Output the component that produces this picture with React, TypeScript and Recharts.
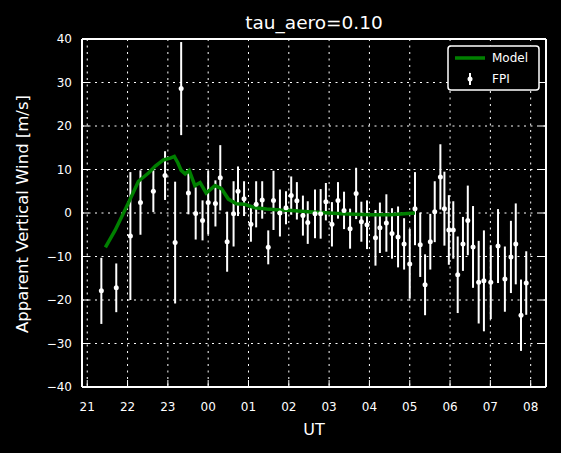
import React from 'react';
import {
  ComposedChart,
  Scatter,
  Line,
  XAxis,
  YAxis,
  CartesianGrid,
  ErrorBar,
  Legend,
} from 'recharts';

// x values are hours after 21 UT
const hourTicks = [0, 1, 2, 3, 4, 5, 6, 7, 8, 9, 10, 11];
const hourLabels = ['21', '22', '23', '00', '01', '02', '03', '04', '05', '06', '07', '08'];
const windTicks = [-40, -30, -20, -10, 0, 10, 20, 30, 40];

const fpiTime = [
  0.35, 0.72, 1.07, 1.32, 1.64, 1.93, 2.18, 2.33, 2.51, 2.69, 2.86, 3.0, 3.18, 3.3, 3.47,
  3.63, 3.74, 3.89, 4.06, 4.19, 4.34, 4.49, 4.62, 4.78, 4.93, 5.06, 5.2, 5.35, 5.47, 5.65,
  5.79, 5.92, 6.07, 6.22, 6.37, 6.52, 6.67, 6.8, 6.94, 7.15, 7.26, 7.42, 7.56, 7.71, 7.86,
  8.0, 8.13, 8.26, 8.38, 8.51, 8.62, 8.76, 8.86, 8.97, 9.08, 9.19, 9.32, 9.44, 9.57, 9.71,
  9.84, 10.01, 10.19, 10.36, 10.51, 10.63, 10.76, 10.89,
];
const fpiWind = [
  -17.9, -17.2, -5.3, 2.4, 5.0, 8.6, -6.8, 28.6, 4.6, -0.1, -1.7, 2.4, 2.2, 8.1, -6.6,
  -0.2, 5.0, 3.3, -2.6, 2.0, 3.0, -7.9, 2.9, 0.0, 1.2, 4.0, 2.8, -0.6, -2.2, -0.2,
  -0.2, 2.6, -2.6, 2.9, 0.6, -3.6, 4.5, -2.0, -2.7, -5.7, -3.4, -2.3, -4.7, -5.5, -7.1,
  -11.7, 1.0, -7.3, -16.5, -6.6, 0.3, 8.3, 1.0, -3.9, -3.9, -14.2, -7.1, -1.7, -7.8, -15.9,
  -15.6, -15.9, -7.6, -15.2, -10.1, -7.1, -23.5, -16.1,
];
const fpiErr = [
  7.6, 5.6, 14.7, 7.4, 4.8, 5.6, 14.0, 10.7, 4.9, 6.0, 4.6, 7.3, 5.3, 7.5, 6.9,
  7.5, 5.7, 4.0, 4.0, 5.3, 4.3, 3.9, 6.8, 5.4, 3.8, 4.4, 4.3, 4.6, 4.9, 5.6,
  5.7, 4.3, 5.1, 4.2, 4.3, 4.6, 5.9, 4.6, 5.6, 6.4, 5.8, 6.6, 5.8, 7.0, 5.9,
  8.0, 8.4, 7.4, 7.0, 6.4, 7.0, 7.5, 8.5, 8.0, 6.6, 8.8, 6.2, 8.0, 9.4, 9.5,
  11.6, 8.5, 8.5, 7.5, 8.3, 9.3, 8.2, 7.3,
];

const modelTime = [
  0.45, 0.69, 1.02, 1.27, 1.52, 1.69, 1.89, 2.06, 2.16, 2.25, 2.33, 2.43, 2.53, 2.67, 2.8,
  2.95, 3.17, 3.33, 3.5, 3.7, 3.9, 4.16, 4.45, 4.78, 5.07, 5.48, 5.9, 6.31, 7.01, 7.51, 8.13,
];
const modelWind = [
  -7.9, -4.0, 2.3, 7.3, 9.2, 10.8, 12.2, 12.6, 13.0, 11.5, 9.8, 9.0, 9.8, 6.3, 7.0,
  4.6, 6.3, 5.6, 3.2, 2.1, 2.0, 1.2, 0.9, 0.7, 0.6, 0.3, 0.05, -0.2, -0.4, -0.4, 0.0,
];

const fpiData = fpiTime.map((x, i) => ({ x, y: fpiWind[i], err: fpiErr[i] }));
const modelData = modelTime.map((x, i) => ({ x, y: modelWind[i] }));

const FONT = '"DejaVu Sans", sans-serif';
const xDomain: [number, number] = [-0.13, 11.38];

const fmtWind = (v: number) => (v < 0 ? '\u2212' + Math.abs(v) : String(v));

const LegendBox = () => (
  <svg width={93} height={46} style={{ display: 'block' }}>
    <rect x={1} y={1} width={91} height={44} rx={3} fill="#000" stroke="#fff" strokeWidth={1.5} />
    <line x1={8} y1={13} x2={38} y2={13} stroke="#008000" strokeWidth={3.5} />
    <text x={45} y={17} fill="#fff" fontSize={12} fontFamily={FONT}>Model</text>
    <line x1={23} y1={28} x2={23} y2={40} stroke="#fff" strokeWidth={2} />
    <circle cx={23} cy={34} r={2.5} fill="#fff" />
    <text x={45} y={38} fill="#fff" fontSize={12} fontFamily={FONT}>FPI</text>
  </svg>
);

const Dot = (props: any) => <circle cx={props.cx} cy={props.cy} r={2.5} fill="#fff" />;

export default function App() {
  return (
    <div style={{ position: 'absolute', left: 0, top: 0, width: 561, height: 453, background: '#000', fontFamily: FONT }}>
      <div style={{ position: 'absolute', left: 314, top: 22, transform: 'translate(-50%, -50%)', color: '#fff', fontSize: 18.5, whiteSpace: 'nowrap' }}>
        tau_aero=0.10
      </div>
      <div style={{ position: 'absolute', left: 314, top: 429, transform: 'translate(-50%, -50%)', color: '#fff', fontSize: 16, whiteSpace: 'nowrap' }}>
        UT
      </div>
      <div style={{ position: 'absolute', left: 22, top: 214, transform: 'translate(-50%, -50%) rotate(-90deg)', color: '#fff', fontSize: 16.5, whiteSpace: 'nowrap' }}>
        Apparent Vertical Wind [m/s]
      </div>
      <ComposedChart width={561} height={453} margin={{ top: 38, right: 14, bottom: 36, left: 0 }} style={{ position: 'absolute', left: 0, top: 0 }}>
        <CartesianGrid stroke="#fff" strokeDasharray="2 4.5" strokeWidth={1} />
        <XAxis
          type="number"
          dataKey="x"
          domain={xDomain}
          allowDataOverflow
          ticks={hourTicks}
          tickFormatter={(v: number) => hourLabels[v]}
          height={30}
          axisLine={{ stroke: '#fff', strokeWidth: 2 }}
          tickLine={{ stroke: '#fff', strokeWidth: 1 }}
          tickSize={-7}
          tickMargin={22}
          tick={{ fill: '#fff', fontSize: 12, fontFamily: FONT }}
        />
        <XAxis
          xAxisId="top"
          orientation="top"
          type="number"
          domain={xDomain}
          allowDataOverflow
          ticks={hourTicks}
          tickFormatter={() => ''}
          height={1}
          axisLine={{ stroke: '#fff', strokeWidth: 2 }}
          tickLine={{ stroke: '#fff', strokeWidth: 1 }}
          tickSize={-7}
        />
        <YAxis
          type="number"
          domain={[-40, 40]}
          allowDataOverflow
          ticks={windTicks}
          tickFormatter={fmtWind}
          width={82}
          axisLine={{ stroke: '#fff', strokeWidth: 2 }}
          tickLine={{ stroke: '#fff', strokeWidth: 1 }}
          tickSize={-7}
          tickMargin={17}
          tick={{ fill: '#fff', fontSize: 12, fontFamily: FONT }}
        />
        <YAxis
          yAxisId="right"
          orientation="right"
          type="number"
          domain={[-40, 40]}
          allowDataOverflow
          ticks={windTicks}
          tickFormatter={() => ''}
          width={1}
          axisLine={{ stroke: '#fff', strokeWidth: 2 }}
          tickLine={{ stroke: '#fff', strokeWidth: 1 }}
          tickSize={-7}
        />
        <Scatter data={fpiData} dataKey="y" shape={<Dot />} isAnimationActive={false}>
          <ErrorBar dataKey="err" direction="y" width={0} stroke="#fff" strokeWidth={2} isAnimationActive={false} />
        </Scatter>
        <Line
          data={modelData}
          dataKey="y"
          type="linear"
          stroke="#008000"
          strokeWidth={3.5}
          dot={false}
          activeDot={false}
          isAnimationActive={false}
        />
        <Legend
          layout="horizontal"
          align="center"
          verticalAlign="middle"
          content={() => <LegendBox />}
          wrapperStyle={{ left: 447, top: 45, width: 93, height: 46 }}
        />
      </ComposedChart>
    </div>
  );
}
